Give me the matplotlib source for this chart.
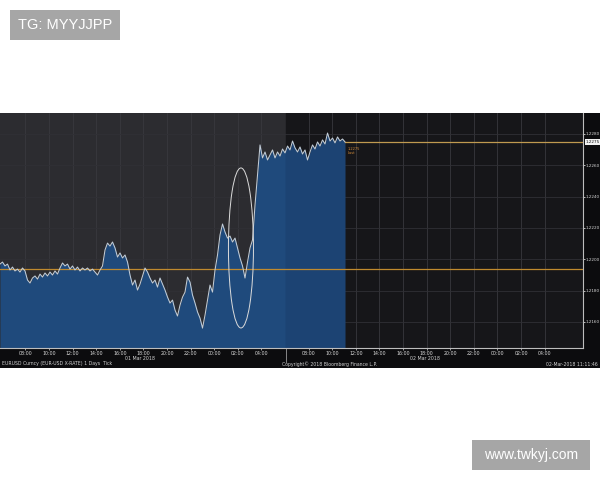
import numpy as np
import matplotlib

matplotlib.use("Agg")
import matplotlib.pyplot as plt
from matplotlib.patches import Ellipse, Rectangle

# EURUSD tick chart, hours counted from 01 Mar 2018 00:00
START_HOUR = 5.84
LAST_HOUR = 35.08
SESSION_BREAK = 30.06
X_END = 55.25

prices = [
    1.21969, 1.21982, 1.21957, 1.21969, 1.21931, 1.21950, 1.21925, 1.21937,
    1.21918, 1.21944, 1.21925, 1.21867, 1.21848, 1.21880, 1.21893, 1.21873,
    1.21905, 1.21886, 1.21912, 1.21893, 1.21918, 1.21899, 1.21925, 1.21905,
    1.21944, 1.21976, 1.21957, 1.21969, 1.21937, 1.21957, 1.21931, 1.21950,
    1.21925, 1.21944, 1.21931, 1.21944, 1.21925, 1.21937, 1.21918, 1.21899,
    1.21931, 1.21957, 1.22059, 1.22103, 1.22084, 1.22110, 1.22072, 1.22014,
    1.22040, 1.22008, 1.22027, 1.21982, 1.21899, 1.21835, 1.21867, 1.21803,
    1.21841, 1.21893, 1.21944, 1.21918, 1.21880, 1.21848, 1.21867, 1.21822,
    1.21880, 1.21841, 1.21803, 1.21758, 1.21720, 1.21739, 1.21675, 1.21637,
    1.21707, 1.21758, 1.21790, 1.21886, 1.21854, 1.21771, 1.21720, 1.21663,
    1.21624, 1.21560, 1.21643, 1.21739, 1.21835, 1.21790, 1.21931, 1.22027,
    1.22155, 1.22225, 1.22174, 1.22135, 1.22148, 1.22110, 1.22135, 1.22072,
    1.22008, 1.21957, 1.21880, 1.21982, 1.22072, 1.22123, 1.22346, 1.22538,
    1.22730, 1.22647, 1.22685, 1.22634, 1.22666, 1.22698, 1.22647, 1.22685,
    1.22659, 1.22704, 1.22679, 1.22723, 1.22698, 1.22755, 1.22711, 1.22685,
    1.22717, 1.22672, 1.22698, 1.22634, 1.22685, 1.22730, 1.22704, 1.22749,
    1.22723, 1.22762, 1.22736, 1.22806, 1.22755, 1.22774, 1.22743, 1.22781,
    1.22755, 1.22768, 1.22749,
]

prev_close = 1.21936
last_price = 1.22749
price_ticks = [1.2160, 1.2180, 1.2200, 1.2220, 1.2240, 1.2260, 1.2280]
hour_ticks = [8, 10, 12, 14, 16, 18, 20, 22, 24, 26, 28,
              32, 34, 36, 38, 40, 42, 44, 46, 48, 50, 52]
hour_labels = ["%02d:00" % (h % 24) for h in hour_ticks]

hours = np.linspace(START_HOUR, LAST_HOUR, len(prices))
prices = np.array(prices)

fig = plt.figure(figsize=(6.0, 4.8), dpi=100)
fig.patch.set_facecolor("white")

# dark terminal panel behind the chart
panel = fig.add_axes([0.0, 0.2333, 1.0, 0.5313], zorder=-5)
panel.set_facecolor("#0c0c0e")
panel.set_xticks([])
panel.set_yticks([])
for s in panel.spines.values():
    s.set_visible(False)

ax = fig.add_axes([0.0, 0.275, 0.9717, 0.4896])
ax.set_facecolor("#2c2c30")
ax.axvspan(SESSION_BREAK, X_END, color="#161619", zorder=0)

ymin, ymax = 1.21433, 1.22934
ax.set_xlim(START_HOUR, X_END)
ax.set_ylim(ymin, ymax)

for h in hour_ticks:
    ax.axvline(h, color="#38383e", linewidth=0.6, zorder=1)
for p in price_ticks:
    ax.axhline(p, color="#303035", linewidth=0.6, zorder=1)

left = hours <= SESSION_BREAK + 0.25
right = hours >= SESSION_BREAK - 0.25
ax.fill_between(hours, prices, ymin, where=left, color="#1f4a7c", linewidth=0, zorder=2)
ax.fill_between(hours, prices, ymin, where=right, color="#1c4373", linewidth=0, zorder=2)
ax.plot(hours, prices, color="#c2ccd6", linewidth=0.75, zorder=4)

ax.axhline(prev_close, color="#c08a2e", linewidth=0.9, zorder=3)
ax.plot([LAST_HOUR, X_END], [last_price, last_price], color="#c09a50", linewidth=0.9, zorder=3)
ax.text(LAST_HOUR + 0.2, last_price - 0.0003, "1.2275\nLast", color="#d08a3a",
        fontsize=2.6, va="top", ha="left", zorder=5)

ax.add_patch(Ellipse((26.26, 1.22072), 2.12, 0.01022, fill=False,
                     edgecolor="#dcdcdc", linewidth=0.7, zorder=5))

ax.yaxis.tick_right()
ax.set_yticks(price_ticks)
ax.set_yticklabels(["%.4f" % p for p in price_ticks])
ax.tick_params(axis="y", colors="#d8d8d8", labelsize=3.0, length=1.5, width=0.6, pad=0.5)
ax.set_xticks(hour_ticks)
ax.set_xticklabels(hour_labels)
ax.tick_params(axis="x", colors="#d8d8d8", labelsize=3.4, length=1.5, width=0.5, pad=1.0)

for side in ("top", "left"):
    ax.spines[side].set_visible(False)
ax.spines["right"].set_color("#bdbdbd")
ax.spines["bottom"].set_color("#bdbdbd")
ax.spines["right"].set_linewidth(0.8)
ax.spines["bottom"].set_linewidth(0.8)

ax.axvline(SESSION_BREAK, ymin=-0.06, ymax=0, clip_on=False, color="#9a9a9a", linewidth=0.6)

# current price tag on the axis
fig.text(0.9767, 0.7042, "%.4f" % last_price, fontsize=3.0, color="#111111", va="center",
         ha="left", bbox=dict(boxstyle="square,pad=0.15", facecolor="#f2f2f2", edgecolor="none"))

fig.text(0.233, 1 - 355.5 / 480, "01 Mar 2018", fontsize=3.4, color="#d0d0d0",
         ha="center", va="top")
fig.text(0.708, 1 - 355.5 / 480, "02 Mar 2018", fontsize=3.4, color="#d0d0d0",
         ha="center", va="top")
fig.text(0.004, 1 - 364 / 480, "EURUSD Curncy (EUR-USD X-RATE) 1 Days  Tick", fontsize=3.3,
         color="#d0d0d0", va="center")
fig.text(0.47, 1 - 364 / 480, "Copyright\u00a9 2018 Bloomberg Finance L.P.", fontsize=3.3,
         color="#d0d0d0", va="center")
fig.text(0.997, 1 - 364 / 480, "02-Mar-2018 11:11:46", fontsize=3.3, color="#d0d0d0",
         ha="right", va="center")

# watermark boxes
fig.patches.append(Rectangle((10 / 600, 1 - 40 / 480), 110 / 600, 30 / 480,
                             transform=fig.transFigure, facecolor="#a6a6a6", edgecolor="none"))
fig.text(65 / 600, 1 - 25 / 480, "TG: MYYJJPP", fontsize=10.5, color="white",
         ha="center", va="center", family="Liberation Sans")
fig.patches.append(Rectangle((472 / 600, 1 - 470 / 480), 118 / 600, 30 / 480,
                             transform=fig.transFigure, facecolor="#a6a6a6", edgecolor="none"))
fig.text(531 / 600, 1 - 455 / 480, "www.twkyj.com", fontsize=10, color="white",
         ha="center", va="center", family="Liberation Sans")

fig.savefig("out.png", dpi=100, facecolor="white")
